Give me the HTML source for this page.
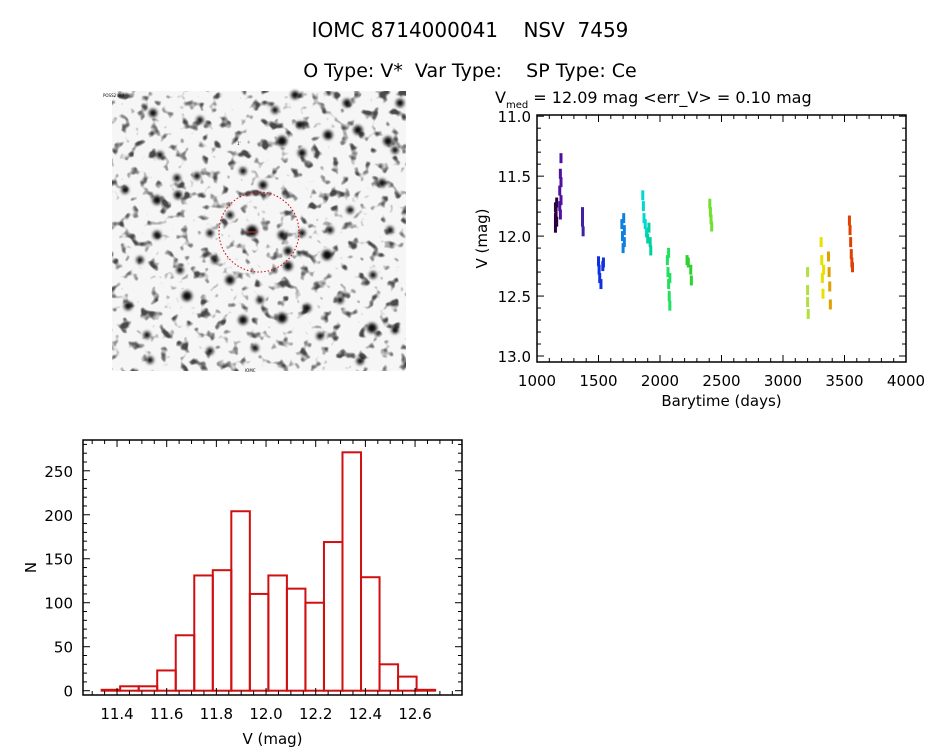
<!DOCTYPE html>
<html><head><meta charset="utf-8"><style>
body{margin:0;background:#fff;}
svg text{font-family:"DejaVu Sans","Liberation Sans",sans-serif;fill:#000;white-space:pre;}
</style></head><body>
<svg id="root" width="944" height="747" viewBox="0 0 944 747" xmlns="http://www.w3.org/2000/svg">
<defs>
<filter id="noise" x="0" y="0" width="100%" height="100%">
<feTurbulence type="fractalNoise" baseFrequency="0.1" numOctaves="2" seed="7"/>
<feColorMatrix type="matrix" values="0 0 0 0 0  0 0 0 0 0  0 0 0 0 0  -5 0 0 0 2.2"/>
</filter>
<filter id="blur"><feGaussianBlur stdDeviation="1.6"/></filter>
</defs>
<text x="470" y="37" font-size="20" text-anchor="middle">IOMC 8714000041    NSV  7459</text>
<text x="470" y="77" font-size="19" text-anchor="middle">O Type: V*  Var Type:    SP Type: Ce</text>

<g>
<rect x="112" y="91" width="294" height="280" fill="#f6f6f6"/>
<rect x="112" y="91" width="294" height="280" filter="url(#noise)" opacity="0.7"/>
<g id="stars" filter="url(#blur)" fill="#0a0a0a"></g>
<circle cx="259" cy="232" r="40" fill="none" stroke="#c00" stroke-width="1" stroke-dasharray="1.5,2"/>
<line x1="246" y1="232" x2="258" y2="232" stroke="#c33" stroke-width="1"/>
<text x="103" y="97" font-size="4" fill="#22a">POSS2 red</text>
<text x="237" y="145" font-size="4" fill="#c00">1'</text>
<text x="245" y="372" font-size="4" fill="#22a">IOMC</text>
</g>

<g id="lc"></g>
<g id="hist"></g>
</svg>
<script>
const NS="http://www.w3.org/2000/svg";
function mk(p,tag,a){const e=document.createElementNS(NS,tag);for(const k in a)e.setAttribute(k,a[k]);p.appendChild(e);return e;}

// finder stars (image pixel coords)
const starX=[282,328,358,388,302,157,178,252,282,288,288,327,230,187,282,243,307,372,128,157,263,347,400,295,153,302,210,382,147,255,360,210,320,373,177,197,243,160,200,140,260,350,390,215,275,330,300,180,125,395,340,150,230,395];
const starY=[141,135,130,141,153,200,195,231,235,251,266,255,280,296,318,320,308,328,306,235,185,103,103,95,113,233,233,183,335,348,361,351,336,275,178,176,171,155,120,260,300,210,230,260,110,230,125,270,190,330,300,360,215,150];
const starR=[5,4.5,4.5,4.5,4,4.5,4,5.5,4,4,4.5,5,4.5,5,5,4.5,4,5,4,4,4,4,4,4,4,3.5,3.5,4,3.5,3.5,3.5,3.5,3.5,3.5,3.5,3.5,3.5,3.5,3.5,3.5,3.5,3.5,3.5,3.5,3.5,3.5,3.5,3.5,3.5,3.5,3.5,3.5,3.5,3.5];
const sg=document.getElementById('stars');
for(let i=0;i<starX.length;i++){const c=mk(sg,'circle',{cx:starX[i],cy:starY[i],r:starR[i]});

}

// ---- Light curve ----
const lcTimes=[1150,1150,1150,1155,1160,1160,1185,1185,1190,1190,1195,1195,1195,1370,1370,1375,1500,1505,1510,1520,1535,1540,1690,1695,1700,1705,1710,1710,1860,1865,1870,1880,1890,1900,1910,1920,1925,2060,2065,2070,2070,2075,2080,2080,2220,2230,2250,2255,2405,2410,2415,2420,3200,3200,3200,3205,3310,3315,3320,3325,3330,3370,3375,3380,3385,3540,3545,3550,3555,3560,3565];
const lcMags=[11.76,11.85,11.93,11.80,11.72,11.88,11.62,11.75,11.48,11.82,11.35,11.55,11.70,11.80,11.88,11.96,12.21,12.28,12.35,12.40,12.25,12.22,11.90,12.00,12.10,11.85,11.95,12.05,11.66,11.75,11.85,11.90,11.97,12.02,11.93,12.05,12.12,12.20,12.30,12.14,12.40,12.50,12.58,12.35,12.20,12.22,12.28,12.37,11.73,11.80,11.86,11.92,12.30,12.45,12.55,12.65,12.05,12.20,12.35,12.48,12.28,12.17,12.30,12.42,12.57,11.87,11.95,12.05,12.15,12.22,12.26];
const lcGroup=[0,0,0,0,0,0,1,1,1,1,1,1,1,2,2,2,3,3,3,3,3,3,4,4,4,4,4,4,5,5,5,5,5,6,6,6,6,7,7,7,7,7,7,7,8,8,8,8,9,9,9,9,10,10,10,10,11,11,11,11,11,12,12,12,12,13,13,13,13,13,13];
const lcColors=['#2a0040','#5010a0','#4020a0','#1030e0','#1080e0','#00d8d0','#00d0a0','#20e060','#30d030','#70e030','#b0e040','#e8e000','#e0a000','#e04000'];
const lcXTicks=[1000,1500,2000,2500,3000,3500,4000];
const lcYTicks=[11.0,11.5,12.0,12.5,13.0];
(function(){
const g=document.getElementById('lc');
const L=537,R=906,T=115,B=362,x0=1000,x1=4000,y0=10.99,y1=13.05;
const X=t=>L+(t-x0)/(x1-x0)*(R-L), Y=v=>T+(v-y0)/(y1-y0)*(B-T);
const tt=mk(g,'text',{x:495,y:103,'font-size':16});


tt.innerHTML='V<tspan font-size="10" dy="5">med</tspan><tspan dy="-5"> = 12.09 mag &lt;err_V&gt; = 0.10 mag</tspan>';
const fr=mk(g,'rect',{x:L,y:T,width:R-L,height:B-T,fill:'none',stroke:'#000','stroke-width':1.5});


for(let t=1000;t<=4000;t+=100){const x=X(t);const m=(t%500==0)?7:4;
mk(g,'line',{x1:x,y1:B,x2:x,y2:B-m,stroke:'#000'});mk(g,'line',{x1:x,y1:T,x2:x,y2:T+m,stroke:'#000'});}
for(let k=0;k<=20;k++){const v=11+k*0.1;const y=Y(v);const m=(k%5==0)?7:4;
mk(g,'line',{x1:L,y1:y,x2:L+m,y2:y,stroke:'#000'});mk(g,'line',{x1:R,y1:y,x2:R-m,y2:y,stroke:'#000'});}
lcXTicks.forEach(t=>{const e=mk(g,'text',{x:X(t),y:B+24,'font-size':15,'text-anchor':'middle'});e.textContent=t;

});
lcYTicks.forEach(v=>{const e=mk(g,'text',{x:L-6,y:Y(v)+6,'font-size':15,'text-anchor':'end'});e.textContent=v.toFixed(1);

});
const xl=mk(g,'text',{x:(L+R)/2,y:406,'font-size':15,'text-anchor':'middle'});xl.textContent='Barytime (days)';


const yl=mk(g,'text',{x:0,y:0,'font-size':15,'text-anchor':'middle',transform:`translate(487,${(T+B)/2}) rotate(-90)`});yl.textContent='V (mag)';


for(let i=0;i<lcTimes.length;i++){
 const p=mk(g,'rect',{x:X(lcTimes[i])-1.5,y:Y(lcMags[i])-5,width:3,height:10,fill:lcColors[lcGroup[i]]});
 
 
}
})();

// ---- Histogram ----
const histEdges0=11.338, histBinWidth=0.0746;
const histCounts=[1,5,5,23,63,131,137,204,110,131,116,100,169,271,129,30,16,1];
const histXTicks=[11.4,11.6,11.8,12.0,12.2,12.4,12.6];
const histYTicks=[0,50,100,150,200,250];
(function(){
const g=document.getElementById('hist');
const L=83,R=462,T=440,B=695,x0=11.263,x1=12.789,y0=-4.9,y1=285;
const X=v=>L+(v-x0)/(x1-x0)*(R-L), Y=n=>B-(n-y0)/(y1-y0)*(B-T);
histCounts.forEach((c,i)=>{const a=X(histEdges0+i*histBinWidth),b=X(histEdges0+(i+1)*histBinWidth);
 const r=mk(g,'rect',{x:a,y:Y(c),width:b-a,height:Y(0)-Y(c),fill:'none',stroke:'#d01010','stroke-width':2});
 
 });
const fr=mk(g,'rect',{x:L,y:T,width:R-L,height:B-T,fill:'none',stroke:'#000','stroke-width':1.5});


for(let k=0;k<=30;k++){const v=11.3+k*0.05;if(v>x1)break;const x=X(v);const m=(k%4==2)?7:4;
mk(g,'line',{x1:x,y1:B,x2:x,y2:B-m,stroke:'#000'});mk(g,'line',{x1:x,y1:T,x2:x,y2:T+m,stroke:'#000'});}
for(let n=0;n<=280;n+=10){const y=Y(n);const m=(n%50==0)?7:4;
mk(g,'line',{x1:L,y1:y,x2:L+m,y2:y,stroke:'#000'});mk(g,'line',{x1:R,y1:y,x2:R-m,y2:y,stroke:'#000'});}
histXTicks.forEach(v=>{const e=mk(g,'text',{x:X(v),y:B+24,'font-size':15,'text-anchor':'middle'});e.textContent=v.toFixed(1);

});
histYTicks.forEach(n=>{const e=mk(g,'text',{x:L-10,y:Y(n)+6,'font-size':15,'text-anchor':'end'});e.textContent=n;

});
const xl=mk(g,'text',{x:(L+R)/2,y:744,'font-size':15,'text-anchor':'middle'});xl.textContent='V (mag)';


const yl=mk(g,'text',{x:0,y:0,'font-size':15,'text-anchor':'middle',transform:`translate(36,${(T+B)/2}) rotate(-90)`});yl.textContent='N';


})();
</script>
</body></html>
